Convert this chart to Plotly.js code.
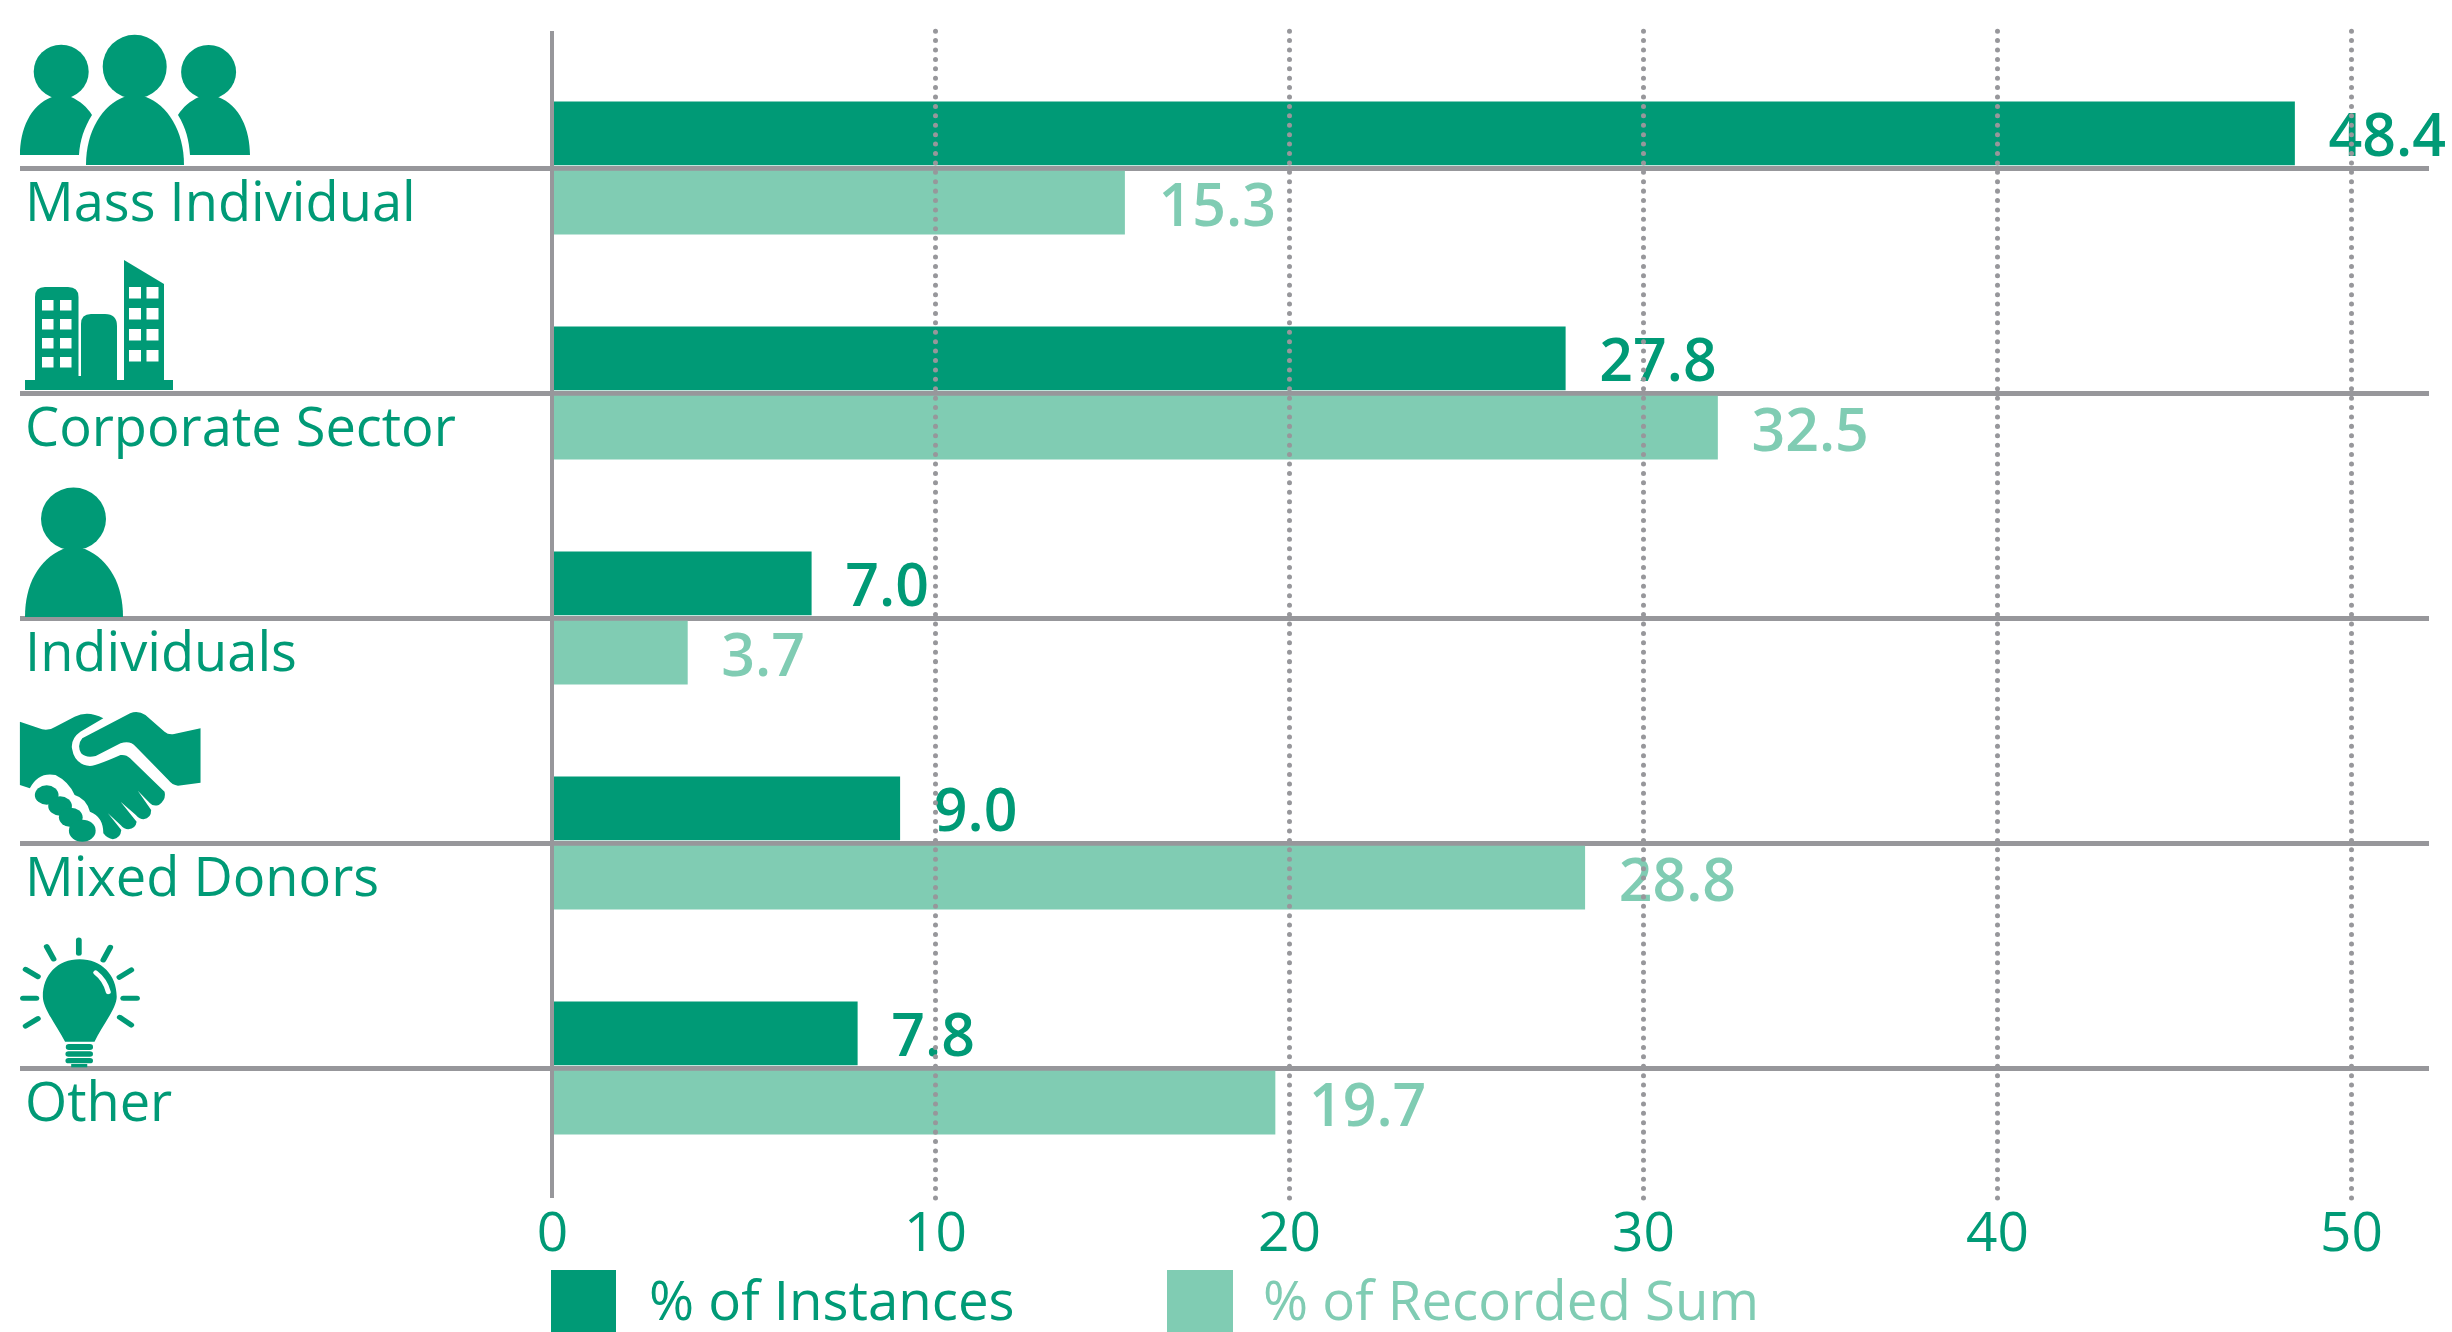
<!DOCTYPE html>
<html>
<head>
<meta charset="utf-8">
<script src="https://cdn.plot.ly/plotly-3.0.1.min.js"></script>
<style>
html,body{margin:0;padding:0;background:#fff;overflow:hidden}
#chart{width:2452px;height:1332px}
.shapelayer path{stroke-linecap:round}
</style>
</head>
<body>
<div id="chart"></div>
<script>
const categories = ["Mass Individual","Corporate Sector","Individuals","Mixed Donors","Other"];
const instancesBars = [48.4,27.8,6.5,9.0,7.8];
const sumBars = [15.35,32.1,3.0,28.35,19.6];
const instancesLabels = ["48.4","27.8","7.0","9.0","7.8"];
const sumLabels = ["15.3","32.5","3.7","28.8","19.7"];
const tickValues = [-0.82,10,20,30,40,50];
const tickLabels = ["0","10","20","30","40","50"];
const seriesNames = ["% of Instances","% of Recorded Sum"];

const DARK="#009a76", LIGHT="#80ccb3", GREY="#97979b", FONT="'Open Sans', sans-serif";
const W=2452,H=1332,L=20,R=2429,T=31,B=1198;
const px=v=>(v-L)/(R-L), py=v=>(B-v)/(B-T);
const axisStart=tickValues[0];

const hand='M52 785 L110 808 Q130 812 145 800 L195 770 Q230 750 270 775 L210 815 Q185 835 188 865 Q195 915 235 918 Q250 918 315 885 Q330 883 340 895 L430 995 Q435 1020 415 1035 Q400 1040 392 1030 L360 992 L395 1050 Q395 1075 375 1078 Q365 1078 355 1065 L315 1025 L357 1085 Q355 1105 335 1108 Q325 1108 315 1095 L282 1060 L317 1110 Q315 1135 295 1138 Q280 1135 270 1120 Q270 1070 235 1055 Q225 1015 195 1005 Q180 965 145 945 Q100 935 78 985 L52 975 Z';
const hand2='M215 835 L340 760 Q360 750 380 765 L430 815 Q440 825 455 822 L524 805 L524 968 L465 977 Q450 975 440 960 L355 860 Q340 840 315 850 L250 888 Q225 895 212 880 Q200 855 215 835 Z';
const win=(xs,ys,w,h)=>xs.map(x=>ys.map(y=>`<rect x="${x}" y="${y}" width="${w}" height="${h}" fill="#fff"/>`).join('')).join('');
const rays=[[206,60,206,100],[122,80,140,117],[288,82,270,120],[67,148,99,170],[343,150,312,172],[60,235,95,235],[322,235,358,235],[67,318,99,296],[343,315,313,292]];
const iconMarkup=[
 `<ellipse cx="134.7" cy="66.7" rx="32" ry="32"/><path d="M86 165C86 130 103 105 124 97L146 97C167 105 184 130 184 165Z"/>
  <ellipse cx="61.2" cy="71.7" rx="27.5" ry="27"/><path d="M20 155C20 130 30 105 52 97L71 97C80 101 87 107 92 115C84 128 80 140 79 155Z"/>
  <ellipse cx="208.6" cy="72" rx="27.5" ry="27"/><path d="M250 155C250 130 240 105 218 97L199 97C190 101 183 107 178 115C186 128 189 140 190 155Z"/>`,
 `<rect x="25" y="380" width="148" height="10"/>
  <path d="M35 381V297Q35 287 45 287H68Q78.500 287 78.500 297V376H81V324Q81 314 91 314H105Q117 314 117 326V381Z"/>
  <path d="M124 381V260L164 284V381Z"/>`+win([42,60],[300,319,338,357],11.5,10.5)+win([129,146.5],[287,308,329,350],12,11.5),
 `<ellipse cx="73.500" cy="519" rx="32.500" ry="31.500"/><path d="M25 617C25 585 38 560 63 549L85 549C110 560 123 585 123 617Z"/>`,
 `<g transform="translate(0,460) scale(.3827,.3333)"><path d="${hand}"/><path d="${hand2}"/>
  <ellipse cx="122" cy="1005" rx="31" ry="29"/><ellipse cx="157" cy="1038" rx="31" ry="29"/><ellipse cx="185" cy="1072" rx="31" ry="29"/><ellipse cx="215" cy="1112" rx="35" ry="33"/></g>`,
 `<g transform="translate(0,920) scale(.3827,.3333)">`+rays.map(r=>`<line x1="${r[0]}" y1="${r[1]}" x2="${r[2]}" y2="${r[3]}" stroke="${DARK}" stroke-width="15" stroke-linecap="round"/>`).join('')+
  `<path d="M208 118C150 118 112 165 112 230C112 265 150 320 170 365L247 365C265 320 305 265 305 230C305 165 265 118 208 118Z"/>
  <path d="M250 158Q275 180 283 216" fill="none" stroke="#fff" stroke-width="13" stroke-linecap="round"/>
  <rect x="172" y="372" width="71" height="18" rx="8"/><rect x="171" y="394" width="72" height="16" rx="8"/><rect x="171" y="414" width="72" height="16" rx="8"/><rect x="186" y="432" width="42" height="10"/></g>`
];
const iconSvg=`<svg xmlns="http://www.w3.org/2000/svg" width="400" height="${H}" viewBox="0 0 400 ${H}"><g fill="${DARK}">${iconMarkup.join('')}</g></svg>`;

function barTrace(name,vals,labels,color){
  return {type:'bar',orientation:'h',name,y:categories,x:vals.map(v=>v-axisStart),base:axisStart,
    marker:{color,line:{width:0}},text:labels.map(t=>'\u00a0\u00a0'+t),textposition:'outside',cliponaxis:false,
    constraintext:'none',textfont:{family:FONT,size:59,color,weight:600},hoverinfo:'skip'};
}
const data=[barTrace(seriesNames[0],instancesBars,instancesLabels,DARK),barTrace(seriesNames[1],sumBars,sumLabels,LIGHT)];

const annotations=categories.map(c=>({xref:'paper',yref:'y',x:px(22.5),y:c,xanchor:'left',yanchor:'middle',yshift:-32,showarrow:false,
  text:c,font:{family:FONT,size:54.2,color:DARK}}));
const legendSwatches=[[551,616],[1167,1233]];
const legendTextX=[647,1261];
const legendColors=[DARK,LIGHT];
seriesNames.forEach((n,i)=>annotations.push({xref:'paper',yref:'paper',x:px(legendTextX[i]),y:py(1298.5),xanchor:'left',yanchor:'middle',
  showarrow:false,text:n,font:{family:FONT,size:54.6,color:legendColors[i]}}));

const shapes=tickValues.slice(1).map(v=>({type:'line',xref:'x',yref:'paper',x0:v,x1:v,y0:0,y1:1,layer:'above',
  line:{color:GREY,width:5,dash:'0.01px,9.4px'}}));
legendSwatches.forEach((s,i)=>shapes.push({type:'rect',xref:'paper',yref:'paper',x0:px(s[0]),x1:px(s[1]),y0:py(1270),y1:py(1340),
  fillcolor:legendColors[i],line:{width:0},layer:'above'}));

const layout={
  width:W,height:H,paper_bgcolor:'#fff',plot_bgcolor:'#fff',showlegend:false,
  margin:{l:L,r:W-R,t:T,b:H-B,pad:0},
  barmode:'group',bargap:0.385,bargroupgap:0.08,
  xaxis:{range:[(L-581.5)/35.4,(R-581.5)/35.4],tickmode:'array',tickvals:tickValues,ticktext:tickLabels,showgrid:false,zeroline:false,showline:false,
    ticks:'',ticklabelstandoff:-3,tickfont:{family:FONT,size:55,color:DARK},automargin:false},
  yaxis:{type:'category',categoryorder:'array',categoryarray:categories,range:[(B-168)/225,(T-168)/225],showticklabels:false,ticks:'',
    showgrid:true,gridcolor:GREY,gridwidth:5,zeroline:false,showline:true,linecolor:GREY,linewidth:4,
    anchor:'free',position:px(552),automargin:false},
  annotations,shapes,
  images:[{source:'data:image/svg+xml;utf8,'+encodeURIComponent(iconSvg),xref:'paper',yref:'paper',x:px(0),y:py(0),sizex:400/(R-L),sizey:H/(B-T),
    xanchor:'left',yanchor:'top',sizing:'stretch',layer:'above'}]
};
Plotly.newPlot('chart',data,layout,{staticPlot:true,displayModeBar:false});
</script>
</body>
</html>
